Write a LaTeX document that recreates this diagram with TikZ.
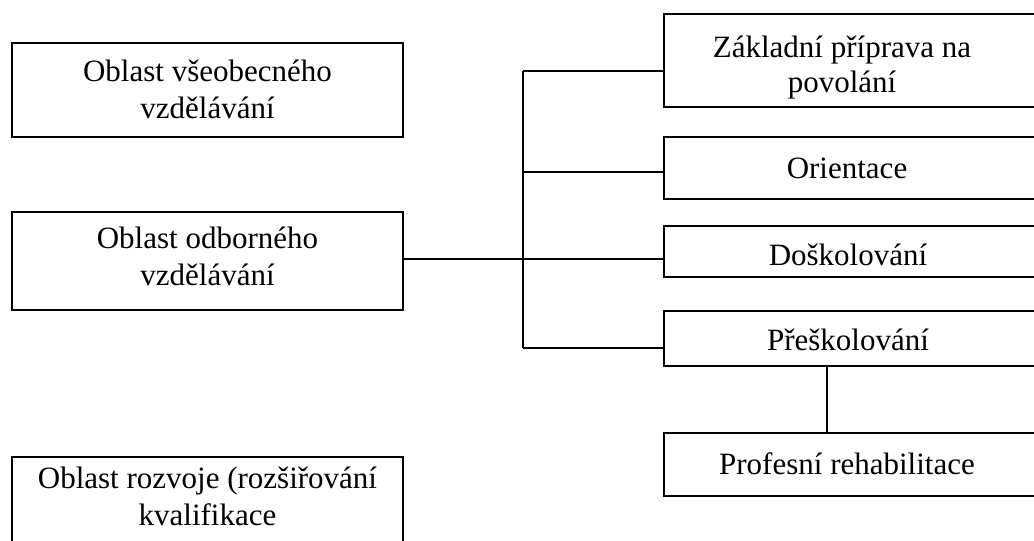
\documentclass[tikz,border=0pt]{standalone}
\usepackage{fontspec}
\setmainfont{Liberation Serif}
\begin{document}
\begin{tikzpicture}[x=1pt,y=-1pt,
  box/.style={draw, line width=1.8pt, inner sep=0pt, minimum width=391pt},
  rbox/.style={draw, line width=1.8pt, inner sep=0pt, minimum width=380pt},
  txt/.style={inner sep=0pt, align=center, anchor=base, font=\fontsize{31}{37}\selectfont},
  link/.style={line width=1.8pt}]
\useasboundingbox (0,0) rectangle (1034,541);
\clip (0,0) rectangle (1034,541);
\fill[white] (0,0) rectangle (1034,541);

% left column (text nodes are placed by the baseline of their last line)
\node[box, minimum height=94pt] (gen) at (207.5,90) {};
\node[box, minimum height=98pt] (voc) at (207.5,261) {};
\node[box, minimum height=88pt] (dev) at (207.5,501) {};
\node[txt] (genT) at (207.5,118) {Oblast všeobecného\\vzdělávání};
\node[txt] (vocT) at (207.5,285.5) {Oblast odborného\\vzdělávání};
\node[txt] (devT) at (207.5,525) {Oblast rozvoje (rozšiřování\\kvalifikace};

% right column
\node[rbox, minimum height=93pt] (basic) at (854,60.5) {};
\node[rbox, minimum height=62pt] (orient) at (854,168) {};
\node[rbox, minimum height=51pt] (further) at (854,251.5) {};
\node[rbox, minimum height=55pt] (retrain) at (854,338.5) {};
\node[rbox, minimum height=63pt] (rehab) at (854,464.5) {};
\node[txt, font=\fontsize{31}{35}\selectfont] (basicT) at (842,92) {Základní příprava na\\povolání};
\node[txt] (orientT) at (847,178) {Orientace};
\node[txt] (furtherT) at (848,265.5) {Doškolování};
\node[txt] (retrainT) at (848,350) {Přeškolování};
\node[txt] (rehabT) at (847,474) {Profesní rehabilitace};

% branching connectors
\coordinate (t1) at (523,71);
\coordinate (t2) at (523,172);
\coordinate (t3) at (523,259);
\coordinate (t4) at (523,348);
\coordinate (v) at (827,0);
\draw[link] (t1) -- (t4);
\draw[link] (t1) -- (t1 -| basic.west);
\draw[link] (t2) -- (t2 -| orient.west);
\draw[link] (t3 -| voc.east) -- (t3 -| further.west);
\draw[link] (t4) -- (t4 -| retrain.west);
\draw[link] (retrain.south -| v) -- (rehab.north -| v);
\end{tikzpicture}
\end{document}
